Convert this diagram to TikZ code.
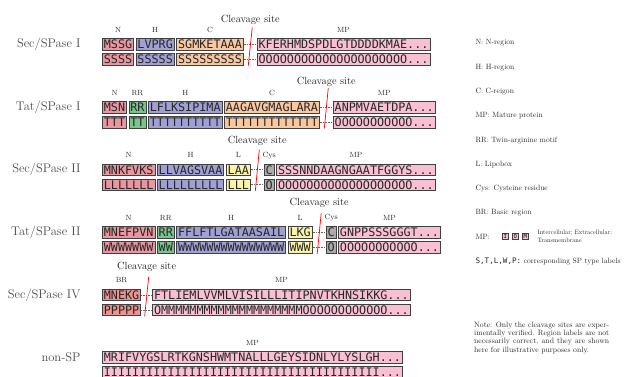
\documentclass[tikz,border=0pt]{standalone}
\usepackage{fontspec}
\usepackage{tikz}
\usetikzlibrary{positioning,calc}

\newfontfamily\seqmono{DejaVu Sans Mono}
\newfontfamily\figfont{lmroman10-regular.otf}

\definecolor{nfill}{RGB}{234,150,160}
\definecolor{hfill}{RGB}{160,160,212}
\definecolor{cfill}{RGB}{250,200,160}
\definecolor{mpfill}{RGB}{248,192,210}
\definecolor{rrfill}{RGB}{122,196,140}
\definecolor{lfill}{RGB}{250,244,170}
\definecolor{cysfill}{RGB}{172,172,172}
\definecolor{brfill}{RGB}{238,146,146}
\definecolor{boxline}{RGB}{64,64,64}

\begin{document}
\begin{tikzpicture}[x=1pt, y=1pt,
  seq/.style={draw=boxline, line width=0.8pt, text=black!85,
    font=\seqmono\fontsize{11.75}{12}\selectfont,
    inner xsep=1.5pt, inner ysep=1.5pt, text height=8.6pt, text depth=0pt},
  nbox/.style={seq, fill=nfill},
  hbox/.style={seq, fill=hfill},
  cbox/.style={seq, fill=cfill},
  mpbox/.style={seq, fill=mpfill},
  rrbox/.style={seq, fill=rrfill},
  lbox/.style={seq, fill=lfill},
  cysbox/.style={seq, fill=cysfill},
  brbox/.style={seq, fill=brfill},
  rowname/.style={anchor=east, text=black!70, font=\fontsize{12.5}{14}\selectfont},
  region/.style={text=black!85, font=\fontsize{7.5}{8}\selectfont},
  cleavetext/.style={text=black!85, font=\fontsize{10.4}{12}\selectfont},
  cutmark/.style={red, line width=0.7pt},
  linker/.style={densely dotted, black!60, line width=0.6pt},
  legend/.style={anchor=west, text=black!85, font=\figfont\fontsize{7.6}{9}\selectfont},
  tinybox/.style={draw=boxline, fill=mpfill, line width=0.5pt,
    font=\seqmono\fontsize{5.5}{6}\selectfont, inner sep=1.1pt,
    text height=4pt, text depth=0pt}
]
  % Fix the page size
  \useasboundingbox (0,0) rectangle (630,-376);

  % Sec/SPase I
  \node[rowname] (name1) at (84,-44.5) {Sec/SPase I};
  \node[nbox, anchor=west] (a1n) at (102,-44.5) {MSSG};
  \node[hbox, right=1.5pt of a1n] (a1h) {LVPRG};
  \node[cbox, right=1.5pt of a1h] (a1c) {SGMKETAAA};
  \node[mpbox, right=13pt of a1c] (a1mp) {KFERHMDSPDLGTDDDDKMAE...};
  \node[nbox, below=2.6pt of a1n] (b1n) {SSSS};
  \node[hbox, below=2.6pt of a1h] (b1h) {SSSSS};
  \node[cbox, below=2.6pt of a1c] (b1c) {SSSSSSSSS};
  \node[mpbox, below=2.6pt of a1mp] (b1mp) {OOOOOOOOOOOOOOOOOOOOO...};
  \draw[linker] (a1c.east) -- (a1mp.west);
  \draw[linker] (b1c.east) -- (b1mp.west);
  \node[region] at ([yshift=8.3pt]a1n.north) {N};
  \node[region] at ([yshift=8.3pt]a1h.north) {H};
  \node[region] at ([yshift=8.3pt]a1c.north) {C};
  \node[region] at ([yshift=8.3pt]a1mp.north) {MP};
  \coordinate (cut1) at ($(a1c.east)!0.5!(a1mp.west)$);
  \draw[cutmark] ([shift={(2pt,17pt)}]cut1) -- ([shift={(-2pt,-21.5pt)}]cut1);
  \node[cleavetext] at ([yshift=25pt]cut1) {Cleavage site};

  % Tat/SPase I
  \node[rowname] (name2) at (84,-107.1) {Tat/SPase I};
  \node[nbox, anchor=west] (a2n) at (102,-107.1) {MSN};
  \node[rrbox, right=1.5pt of a2n] (a2rr) {RR};
  \node[hbox, right=1.5pt of a2rr] (a2h) {LFLKSIPIMA};
  \node[cbox, right=1.5pt of a2h] (a2c) {AAGAVGMAGLARA};
  \node[mpbox, right=13pt of a2c] (a2mp) {ANPMVAETDPA...};
  \node[nbox, below=2.6pt of a2n] (b2n) {TTT};
  \node[rrbox, below=2.6pt of a2rr] (b2rr) {TT};
  \node[hbox, below=2.6pt of a2h] (b2h) {TTTTTTTTTT};
  \node[cbox, below=2.6pt of a2c] (b2c) {TTTTTTTTTTTTT};
  \node[mpbox, below=2.6pt of a2mp] (b2mp) {OOOOOOOOOOO...};
  \draw[linker] (a2c.east) -- (a2mp.west);
  \draw[linker] (b2c.east) -- (b2mp.west);
  \node[region] at ([yshift=8.3pt]a2n.north) {N};
  \node[region] at ([yshift=8.3pt]a2rr.north) {RR};
  \node[region] at ([yshift=8.3pt]a2h.north) {H};
  \node[region] at ([yshift=8.3pt]a2c.north) {C};
  \node[region] at ([yshift=8.3pt]a2mp.north) {MP};
  \coordinate (cut2) at ($(a2c.east)!0.5!(a2mp.west)$);
  \draw[cutmark] ([shift={(2pt,19pt)}]cut2) -- ([shift={(-2pt,-21.5pt)}]cut2);
  \node[cleavetext] at ([yshift=25.5pt]cut2) {Cleavage site};

  % Sec/SPase II
  \node[rowname] (name3) at (84,-169.7) {Sec/SPase II};
  \node[nbox, anchor=west] (a3n) at (102,-169.7) {MNKFVKS};
  \node[hbox, right=1.5pt of a3n] (a3h) {LLVAGSVAA};
  \node[lbox, right=1.5pt of a3h] (a3l) {LAA};
  \node[cysbox, right=13pt of a3l] (a3cys) {C};
  \node[mpbox, right=1.5pt of a3cys] (a3mp) {SSSNNDAAGNGAATFGGYS...};
  \node[nbox, below=2.6pt of a3n] (b3n) {LLLLLLL};
  \node[hbox, below=2.6pt of a3h] (b3h) {LLLLLLLLL};
  \node[lbox, below=2.6pt of a3l] (b3l) {LLL};
  \node[cysbox, below=2.6pt of a3cys] (b3cys) {O};
  \node[mpbox, below=2.6pt of a3mp] (b3mp) {OOOOOOOOOOOOOOOOOOO...};
  \draw[linker] (a3l.east) -- (a3cys.west);
  \draw[linker] (b3l.east) -- (b3cys.west);
  \node[region] at ([yshift=8.3pt]a3n.north) {N};
  \node[region] at ([yshift=8.3pt]a3h.north) {H};
  \node[region] at ([yshift=8.3pt]a3l.north) {L};
  \node[region] at ([yshift=8.3pt]a3cys.north) {Cys};
  \node[region] at ([yshift=8.3pt]a3mp.north) {MP};
  \coordinate (cut3) at ($(a3l.east)!0.5!(a3cys.west)$);
  \draw[cutmark] ([shift={(2pt,20pt)}]cut3) -- ([shift={(-2pt,-21.5pt)}]cut3);
  \node[cleavetext] at ([yshift=28.5pt]cut3) {Cleavage site};

  % Tat/SPase II
  \node[rowname] (name4) at (84,-232.3) {Tat/SPase II};
  \node[nbox, anchor=west] (a4n) at (102,-232.3) {MNEFPVN};
  \node[rrbox, right=1.5pt of a4n] (a4rr) {RR};
  \node[hbox, right=1.5pt of a4rr] (a4h) {FFLFTLGATAASAIL};
  \node[lbox, right=1.5pt of a4h] (a4l) {LKG};
  \node[cysbox, right=13pt of a4l] (a4cys) {C};
  \node[mpbox, right=1.5pt of a4cys] (a4mp) {GNPPSSSGGGT...};
  \node[nbox, below=2.6pt of a4n] (b4n) {WWWWWWW};
  \node[rrbox, below=2.6pt of a4rr] (b4rr) {WW};
  \node[hbox, below=2.6pt of a4h] (b4h) {WWWWWWWWWWWWWWW};
  \node[lbox, below=2.6pt of a4l] (b4l) {WWW};
  \node[cysbox, below=2.6pt of a4cys] (b4cys) {O};
  \node[mpbox, below=2.6pt of a4mp] (b4mp) {OOOOOOOOOOO...};
  \draw[linker] (a4l.east) -- (a4cys.west);
  \draw[linker] (b4l.east) -- (b4cys.west);
  \node[region] at ([yshift=8.3pt]a4n.north) {N};
  \node[region] at ([yshift=8.3pt]a4rr.north) {RR};
  \node[region] at ([yshift=8.3pt]a4h.north) {H};
  \node[region] at ([yshift=8.3pt]a4l.north) {L};
  \node[region] at ([yshift=8.3pt]a4cys.north) {Cys};
  \node[region] at ([yshift=8.3pt]a4mp.north) {MP};
  \coordinate (cut4) at ($(a4l.east)!0.5!(a4cys.west)$);
  \draw[cutmark] ([shift={(2pt,19pt)}]cut4) -- ([shift={(-2pt,-21.5pt)}]cut4);
  \node[cleavetext] at ([yshift=29pt]cut4) {Cleavage site};

  % Sec/SPase IV
  \node[rowname] (name5) at (84,-294.9) {Sec/SPase IV};
  \node[brbox, anchor=west] (a5br) at (102,-294.9) {MNEKG};
  \node[mpbox, right=11pt of a5br] (a5mp) {FTLIEMLVVMLVISILLLITIPNVTKHNSIKKG...};
  \node[brbox, below=2.6pt of a5br] (b5br) {PPPPP};
  \node[mpbox, below=2.6pt of a5mp] (b5mp) {OMMMMMMMMMMMMMMMMMMMMOOOOOOOOOOOO...};
  \draw[linker] (a5br.east) -- (a5mp.west);
  \draw[linker] (b5br.east) -- (b5mp.west);
  \node[region] at ([yshift=8.3pt]a5br.north) {BR};
  \node[region] at ([yshift=8.3pt]a5mp.north) {MP};
  \coordinate (cut5) at ($(a5br.east)!0.5!(a5mp.west)$);
  \draw[cutmark] ([shift={(2pt,18pt)}]cut5) -- ([shift={(-2pt,-21.5pt)}]cut5);
  \node[cleavetext] at ([yshift=28pt]cut5) {Cleavage site};

  % non-SP
  \node[rowname] (name6) at (84,-357.5) {non-SP};
  \node[mpbox, anchor=west] (a6mp) at (102,-357.5) {MRIFVYGSLRTKGNSHWMTNALLLGEYSIDNLYLYSLGH...};
  \node[mpbox, below=2.6pt of a6mp] (b6mp) {IIIIIIIIIIIIIIIIIIIIIIIIIIIIIIIIIIIIIII...};
  \node[region] at ([yshift=8.3pt]a6mp.north) {MP};

  % Legend
  \node[legend] (keyN) at (472,-43) {N: N-region};
  \node[legend] (keyH) at (472,-67.5) {H: H-region};
  \node[legend] (keyC) at (472,-91.7) {C: C-reigon};
  \node[legend] (keyMP) at (472,-115.9) {MP: Mature protein};
  \node[legend] (keyRR) at (472,-140.1) {RR: Twin-arginine motif};
  \node[legend] (keyL) at (472,-164.3) {L: Lipobox};
  \node[legend] (keyCys) at (472,-188.5) {Cys: Cysteine residue};
  \node[legend] (keyBR) at (472,-212.7) {BR: Basic region};
  \node[legend] (keyLoc) at (472,-236.5) {MP:};
  \node[tinybox, right=9pt of keyLoc] (keyI) {I};
  \node[tinybox, right=4pt of keyI] (keyO) {O};
  \node[tinybox, right=4pt of keyO] (keyM) {M};
  \node[legend, align=left, inner sep=0pt, font=\figfont\fontsize{6.3}{7.8}\selectfont,
    right=9pt of keyM] (keyLocText) {Intercellular; Extracellular;\\Transmembrane};
  \node[legend] (keySP) at (472,-261) {{\seqmono S,T,L,W,P:} corresponding SP type labels};

  % Add note
  \node[anchor=north west, inner sep=0pt, align=left, text=black!85,
    font=\figfont\fontsize{7.7}{8.4}\selectfont] (note) at (474,-321.5) {%
    \makebox[135pt][s]{Note: Only the cleavage sites are exper-}\\
    \makebox[135pt][s]{imentally verified. Region labels are not}\\
    \makebox[135pt][s]{necessarily correct, and they are shown}\\
    here for illustrative purposes only.};

\end{tikzpicture}
\end{document}
